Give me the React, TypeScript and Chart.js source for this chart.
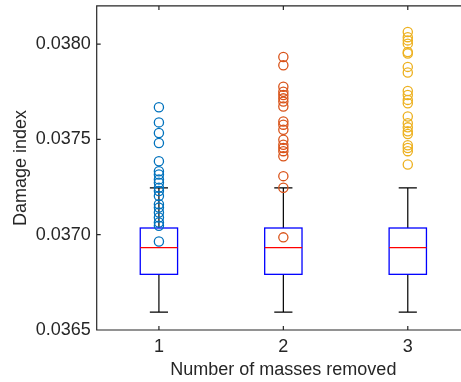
import React, { useEffect, useRef } from "react";
import { Chart, registerables } from "chart.js";

Chart.register(...registerables);

const categories = [1, 2, 3];
const q1 = [0.036792, 0.036792, 0.036792];
const medians = [0.036932, 0.036932, 0.036932];
const q3 = [0.037035, 0.037035, 0.037035];
const whiskerLow = [0.036594, 0.036594, 0.036594];
const whiskerHigh = [0.037246, 0.037246, 0.037246];

const outliers1 = [
  0.037668, 0.037589, 0.037533, 0.037481, 0.037385, 0.037333, 0.037316, 0.03729,
  0.037272, 0.037246, 0.037229, 0.037203, 0.03716, 0.037142, 0.037116, 0.03709,
  0.037064, 0.037047, 0.036964,
];
const outliers2 = [
  0.037932, 0.037889, 0.037776, 0.03775, 0.037733, 0.037715, 0.037698, 0.037672,
  0.037594, 0.037577, 0.03755, 0.037498, 0.037472, 0.037455, 0.037438, 0.037411,
  0.037307, 0.037246, 0.036986,
];
const outliers3 = [
  0.038063, 0.038036, 0.038019, 0.038002, 0.037958, 0.03795, 0.03788, 0.037851,
  0.037754, 0.037733, 0.037707, 0.037689, 0.03762, 0.037585, 0.037563, 0.037542,
  0.037528, 0.037469, 0.037455, 0.037438, 0.037368,
];
const outlierColors = ["#0072BD", "#D95319", "#EDB120"];

const yTicks = [0.0365, 0.037, 0.0375, 0.038];
const yMin = 0.0365;
const yMax = 0.0382;
const xTitle = "Number of masses removed";
const yTitle = "Damage index";

const FONT = "'Liberation Sans', Arial, Helvetica, sans-serif";
const AXIS_COLOR = "#262626";

const boxPlugin = {
  id: "boxPlugin",
  beforeDatasetsDraw(chart: any) {
    const { ctx, scales } = chart;
    const xs = scales.x;
    const ys = scales.y;
    const halfBox = 0.15;
    const halfCap = 0.073;
    ctx.save();
    categories.forEach((c, i) => {
      const xc = xs.getPixelForValue(c);
      const xl = xs.getPixelForValue(c - halfBox);
      const xr = xs.getPixelForValue(c + halfBox);
      const cl = xs.getPixelForValue(c - halfCap);
      const cr = xs.getPixelForValue(c + halfCap);
      const yq1 = ys.getPixelForValue(q1[i]);
      const yq3 = ys.getPixelForValue(q3[i]);
      const ym = ys.getPixelForValue(medians[i]);
      const ylo = ys.getPixelForValue(whiskerLow[i]);
      const yhi = ys.getPixelForValue(whiskerHigh[i]);
      ctx.strokeStyle = "#000000";
      ctx.lineWidth = 1.2;
      ctx.beginPath();
      ctx.moveTo(xc, yq3);
      ctx.lineTo(xc, yhi);
      ctx.moveTo(xc, yq1);
      ctx.lineTo(xc, ylo);
      ctx.moveTo(cl, yhi);
      ctx.lineTo(cr, yhi);
      ctx.moveTo(cl, ylo);
      ctx.lineTo(cr, ylo);
      ctx.stroke();
      ctx.strokeStyle = "#0000FF";
      ctx.lineWidth = 1.3;
      ctx.strokeRect(xl, yq3, xr - xl, yq1 - yq3);
      ctx.strokeStyle = "#FF0000";
      ctx.beginPath();
      ctx.moveTo(xl, ym);
      ctx.lineTo(xr, ym);
      ctx.stroke();
    });
    ctx.restore();
  },
  afterDraw(chart: any) {
    const { ctx, chartArea, scales } = chart;
    const { left, right, top, bottom } = chartArea;
    const tl = 4;
    ctx.save();
    ctx.strokeStyle = AXIS_COLOR;
    ctx.lineWidth = 1.2;
    ctx.beginPath();
    ctx.moveTo(right, top);
    ctx.lineTo(left, top);
    ctx.lineTo(left, bottom);
    ctx.lineTo(right, bottom);
    scales.y.ticks.forEach((t: any) => {
      const y = scales.y.getPixelForValue(t.value);
      ctx.moveTo(left, y);
      ctx.lineTo(left + tl, y);
    });
    scales.x.ticks.forEach((t: any) => {
      const x = scales.x.getPixelForValue(t.value);
      ctx.moveTo(x, bottom);
      ctx.lineTo(x, bottom - tl);
      ctx.moveTo(x, top);
      ctx.lineTo(x, top + tl);
    });
    ctx.stroke();
    ctx.restore();
  },
};

export default function App() {
  const ref = useRef<HTMLCanvasElement>(null);
  useEffect(() => {
    if (!ref.current) return;
    const groups = [outliers1, outliers2, outliers3];
    const chart = new Chart(ref.current, {
      type: "scatter",
      data: {
        datasets: groups.map((g, i) => ({
          label: "Outliers " + categories[i],
          data: g.map((v) => ({ x: categories[i], y: v })),
          pointStyle: "circle",
          pointRadius: 4.6,
          pointBorderWidth: 1.3,
          borderColor: outlierColors[i],
          backgroundColor: "rgba(0,0,0,0)",
          pointHoverRadius: 4.6,
        })),
      },
      options: {
        responsive: false,
        animation: false,
        events: [],
        layout: { padding: { left: 0, right: 10, top: 3.3, bottom: 0 } },
        plugins: {
          legend: { display: false },
          tooltip: { enabled: false },
        },
        scales: {
          x: {
            type: "linear",
            min: 0.5,
            max: 3.5,
            grid: { display: false, drawTicks: false },
            border: { display: false },
            afterBuildTicks: (s: any) => {
              s.ticks = categories.map((v) => ({ value: v }));
            },
            afterFit: (s: any) => {
              s.height = 52;
              s.paddingLeft = 0;
              s.paddingRight = 0;
            },
            ticks: {
              color: AXIS_COLOR,
              font: { family: FONT, size: 18 },
              padding: 6,
              callback: (v: any) => String(v),
            },
            title: {
              display: true,
              text: xTitle,
              color: AXIS_COLOR,
              font: { family: FONT, size: 18 },
              padding: { top: 0, bottom: 1 },
            },
          },
          y: {
            type: "linear",
            min: yMin,
            max: yMax,
            grid: { display: false, drawTicks: false },
            border: { display: false },
            afterBuildTicks: (s: any) => {
              s.ticks = yTicks.map((v) => ({ value: v }));
            },
            afterFit: (s: any) => {
              s.width = 96.7;
              s.paddingTop = 0;
              s.paddingBottom = 0;
            },
            ticks: {
              color: AXIS_COLOR,
              font: { family: FONT, size: 18 },
              padding: 6,
              callback: (v: any) => Number(v).toFixed(4),
            },
            title: {
              display: true,
              text: yTitle,
              color: AXIS_COLOR,
              font: { family: FONT, size: 18 },
              padding: { top: 10, bottom: 0 },
            },
          },
        },
      },
      plugins: [boxPlugin],
    });
    return () => chart.destroy();
  }, []);
  return (
    <div
      style={{
        position: "fixed",
        left: 0,
        top: 0,
        width: 461,
        height: 382,
        overflow: "hidden",
        background: "#ffffff",
      }}
    >
      <canvas ref={ref} width={480} height={382} style={{ display: "block" }} />
    </div>
  );
}
